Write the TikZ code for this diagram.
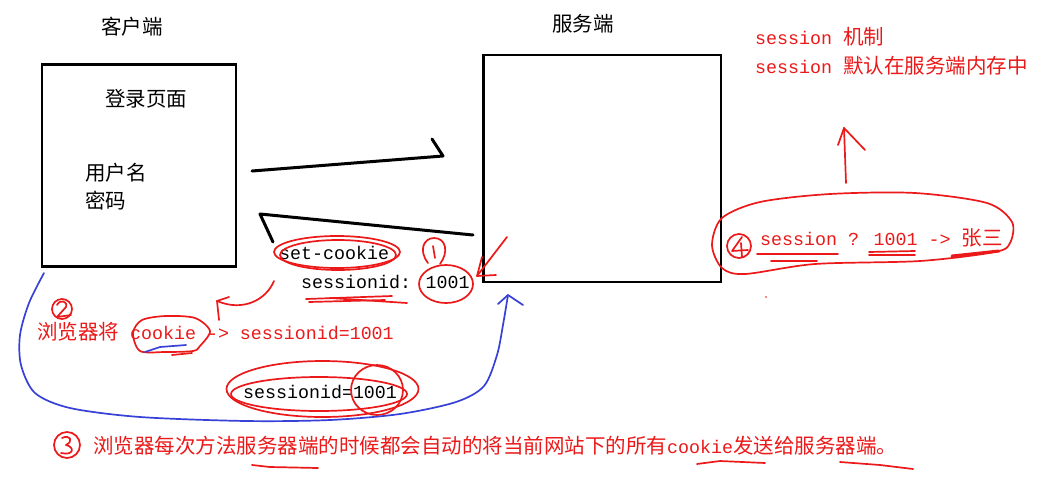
\documentclass[tikz,border=0pt]{standalone}
\usepackage{fontspec}
\newfontfamily\cjkf{Noto Sans CJK SC}
\newfontfamily\monof{Liberation Mono}
\newcommand\ZH[1]{{\cjkf\fontsize{20.5}{24}\selectfont #1}}
\newcommand\EN[1]{{\monof\fontsize{18.3}{24}\selectfont #1}}
\definecolor{ink}{RGB}{235,25,25}
\definecolor{bink}{RGB}{55,65,215}
\begin{document}
\begin{tikzpicture}[x=1pt,y=-1pt,
  box/.style={draw=black,line width=2.6pt,anchor=north west,inner sep=0pt},
  blk/.style={draw=black,line width=3pt,line cap=round,line join=round},
  pen/.style={draw=ink,line width=1.7pt,line cap=round,line join=round},
  bpen/.style={draw=bink,line width=1.7pt,line cap=round,line join=round},
  txt/.style={anchor=base west,inner sep=0pt,text=black},
  rtxt/.style={anchor=base west,inner sep=0pt,text=ink}]
\useasboundingbox (0,0) rectangle (1049,480);
\fill[white] (0,0) rectangle (1049,480);

% boxes
\node[box,minimum width=194pt,minimum height=202pt] (client) at (40.5,63) {};
\node[box,minimum width=237.7pt,minimum height=227.3pt] (server) at (482,53.5) {};

% black texts
\node[txt] (tclient) at (101,34) {\ZH{客户端}};
\node[txt] (tserver) at (552,31) {\ZH{服务端}};
\node[txt] (tlogin) at (105,106) {\ZH{登录页面}};
\node[txt] (tuser) at (85,180) {\ZH{用户名}};
\node[txt] (tpass) at (85,208) {\ZH{密码}};
\node[txt] (tset) at (279,259) {\EN{set-cookie}};
\node[txt] (tsid) at (301,288) {\EN{sessionid: 1001}};
\node[txt] (tsid2) at (243,398) {\EN{sessionid=1001}};

% red texts
\node[rtxt] (tmech) at (755,44) {\EN{session }\ZH{机制}};
\node[rtxt] (tmem) at (755,73) {\EN{session }\ZH{默认在服务端内存中}};
\node[rtxt] (tlook) at (760,245) {\EN{session ? 1001 -> }\ZH{张三}};
\node[rtxt] (tbrow) at (37,339) {\ZH{浏览器将}\EN{ cookie -> sessionid=1001}};
\node[rtxt] (tbottom) at (93,453.5) {\ZH{浏览器每次方法服务器端的时候都会自动的将当前网站下的所有}\EN{cookie}\ZH{发送给服务器端。}};

% black arrows
\coordinate (a1s) at (252,171);
\coordinate (a1e) at (443,156);
\coordinate (a1h) at (432,139);
\draw[blk] (a1s) -- (a1e) -- (a1h);
\coordinate (a2s) at (473,235);
\coordinate (a2e) at (260,214);
\coordinate (a2h) at (273,242);
\draw[blk] (a2s) -- (a2e) -- (a2h);

% set-cookie loops
\draw[pen] (337,252) ellipse [x radius=63, y radius=16];
\draw[pen] (338,255) ellipse [x radius=58, y radius=15];
% circle 1 and loop around 1001
\draw[pen] (428,263) .. controls (418,250) and (424,238) .. (434,238) .. controls (446,238) and (449,252) .. (440,264);
\draw[pen] (433,246) -- (435,258);
\draw[pen] (446,284) ellipse [x radius=27, y radius=19];
% underline sessionid
\draw[pen] (306,299) -- (392,296);
\draw[pen] (309,302) -- (385,300);
\draw[pen] (330,298) -- (407,303);
% red arrow to 1001
\coordinate (r1s) at (507,237);
\coordinate (r1t) at (477,276);
\draw[pen] (r1s) -- (r1t);
\draw[pen] (482,257) -- (r1t) -- (496,275);
% curved arrow set-cookie -> cookie
\coordinate (c1s) at (274,281);
\coordinate (c1t) at (217,301);
\draw[pen] (c1s) .. controls (266,300) and (243,312) .. (c1t);
\draw[pen] (229,297) -- (c1t) -- (219,320);
% circle 2
\draw[pen] (62,309) circle [radius=10];
\draw[pen] (57,305) .. controls (60,299) and (68,301) .. (66,307) -- (57,317) -- (71,315);
% cookie loop
\draw[pen] plot[smooth cycle] coordinates {(133,333) (142,320) (166,316) (195,318) (210,331) (200,346) (193,351) (165,352) (140,351)};
\draw[bpen] (145,352) -- (160,347) -- (186,345);
\draw[pen] (172,355) -- (192,353);
% sessionid=1001 loops
\draw[pen] (322.5,389) ellipse [x radius=96, y radius=28];
\draw[pen] (319,394) ellipse [x radius=88, y radius=17];
\draw[pen] (377,390) ellipse [x radius=26, y radius=25];

% blue curve
\coordinate (bs) at (44,273);
\coordinate (bt) at (508,295);
\draw[bpen] plot[smooth] coordinates {(bs) (29,303) (20,335) (21,365) (35,393) (70,408) (140,417) (246,421) (330,420) (400,414) (456,402) (484,386) (497,355) (503,325) (bt)};
\draw[bpen] (498,304) -- (bt) -- (523,305);

% server side notes
\coordinate (u1s) at (846,183);
\coordinate (u1t) at (844,128);
\draw[pen] (u1s) -- (u1t);
\draw[pen] (838,145) -- (u1t) -- (865,150);
\draw[pen] plot[smooth cycle] coordinates {(712,245) (722,218) (760,202) (830,194) (915,193) (987,203) (1012,222) (1010,243) (995,252) (920,261) (815,264) (745,274) (722,268)};
\draw[pen] (739,246) circle [radius=12];
\draw[pen] (742,237) -- (732,251) -- (748,250);
\draw[pen] (741,243) -- (742,257);
\draw[pen] (757,254) -- (838,254);
\draw[pen] (771,261) -- (817,261);
\draw[pen] (869,252) -- (915,251);
\draw[pen] (869,255) -- (915,255);
\draw[pen,line width=3pt] (952,256) -- (999,251);
\fill[ink] (766,297) circle [radius=0.8];

% circle 3 and underlines
\draw[pen] (67,445) circle [radius=13];
\draw[pen] (62,438) .. controls (70,434) and (74,441) .. (66,445) .. controls (75,447) and (74,456) .. (61,453);
\draw[pen] (252,465) -- (270,467) -- (318,468);
\draw[pen] (697,464) -- (720,461) -- (765,463);
\draw[pen] (840,462) -- (880,465) -- (913,469);
\end{tikzpicture}
\end{document}
